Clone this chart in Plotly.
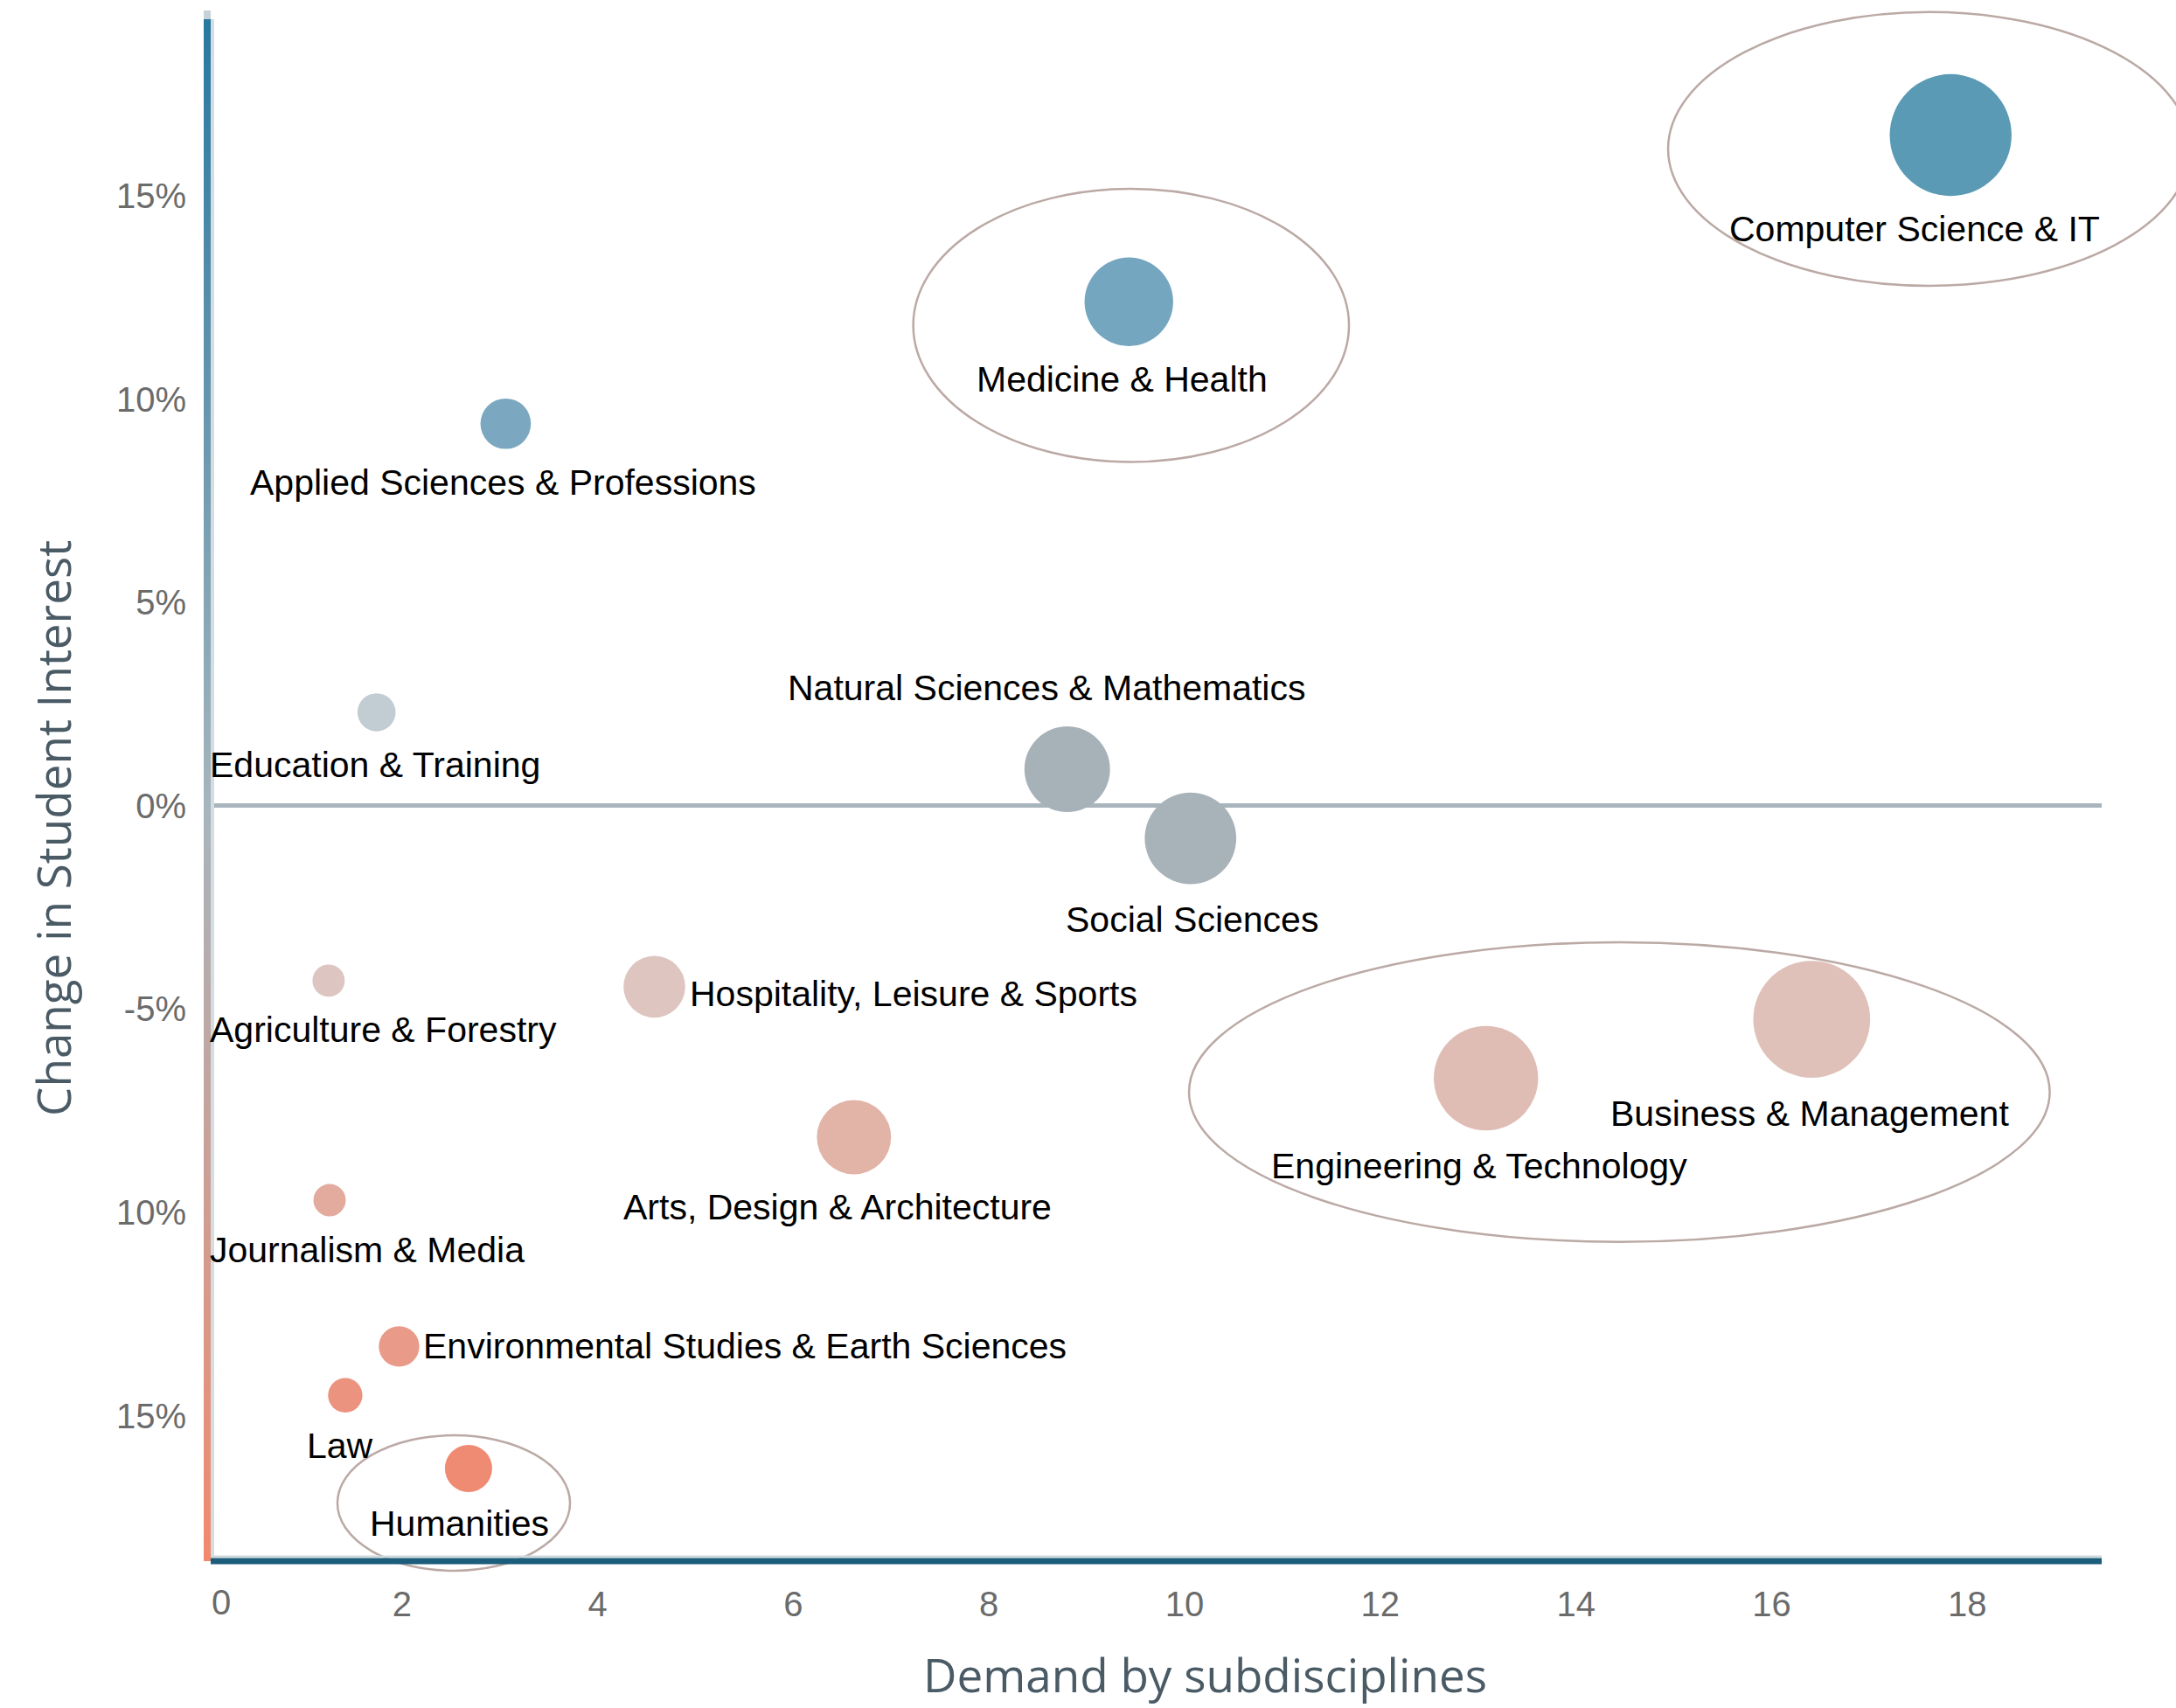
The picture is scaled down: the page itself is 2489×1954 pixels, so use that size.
import numpy as np
import plotly.graph_objects as go

# ---- data ---------------------------------------------------------------
disciplines = [
    "Computer Science & IT",
    "Medicine & Health",
    "Applied Sciences & Professions",
    "Education & Training",
    "Natural Sciences & Mathematics",
    "Social Sciences",
    "Agriculture & Forestry",
    "Hospitality, Leisure & Sports",
    "Arts, Design & Architecture",
    "Engineering & Technology",
    "Business & Management",
    "Journalism & Media",
    "Environmental Studies & Earth Sciences",
    "Law",
    "Humanities",
]
demand = [17.83, 9.43, 3.06, 1.74, 8.80, 10.06, 1.25, 4.58, 6.62, 13.08, 16.41, 1.26, 1.97, 1.42, 2.68]
interest_change = [16.5, 12.4, 9.4, 2.3, 0.9, -0.8, -4.3, -4.45, -8.15, -6.7, -5.25, -9.7, -13.3, -14.5, -16.3]

x_tick_values = [2, 4, 6, 8, 10, 12, 14, 16, 18]
x_origin_label = "0"
y_tick_values = [15, 10, 5, 0, -5, -10, -15]
y_tick_labels = ["15%", "10%", "5%", "0%", "-5%", "10%", "15%"]

# groups circled on the chart: (centre x, centre y, half width, half height) in data units
highlight_groups = {
    "Computer Science & IT": (17.61, 16.16, 2.668, 3.366),
    "Medicine & Health": (9.453, 11.82, 2.227, 3.361),
    "Engineering & Technology / Business & Management": (14.444, -7.04, 4.399, 3.685),
    "Humanities": (2.529, -17.15, 1.189, 1.667),
}

# ---- styling ------------------------------------------------------------
W, H = 2489, 1954
M = dict(l=236, r=85, t=22, b=168)
X_RANGE = [0.0, 19.374]
Y_RANGE = [-18.58, 19.35]

bubble_colors = {
    "Computer Science & IT": "#5a9ab5",
    "Medicine & Health": "#74a6bf",
    "Applied Sciences & Professions": "#7ba8c0",
    "Education & Training": "#c1cdd3",
    "Natural Sciences & Mathematics": "#a6b1b8",
    "Social Sciences": "#a8b2b9",
    "Agriculture & Forestry": "#ddc6c1",
    "Hospitality, Leisure & Sports": "#dfc5c0",
    "Arts, Design & Architecture": "#e2b3a7",
    "Engineering & Technology": "#dfbdb5",
    "Business & Management": "#dfc1b9",
    "Journalism & Media": "#e3ab9d",
    "Environmental Studies & Earth Sciences": "#e99a88",
    "Law": "#ec9380",
    "Humanities": "#ef8a73",
}

# label placement: side of the bubble, horizontal nudge and extra vertical nudge (pixels)
# "below-left" labels are pinned to the left edge of the plot, "below-right" to the right edge
label_place = {
    "Computer Science & IT": ("below-right", 0, 0),
    "Medicine & Health": ("below", -8, 0),
    "Applied Sciences & Professions": ("below", -3, 0),
    "Education & Training": ("below-left", 2, 0),
    "Natural Sciences & Mathematics": ("above", -24, 0),
    "Social Sciences": ("below", 2, -3),
    "Agriculture & Forestry": ("below-left", 2, 0),
    "Hospitality, Leisure & Sports": ("right", -3, -8),
    "Arts, Design & Architecture": ("below", -19, 0),
    "Engineering & Technology": ("below", -8, -3),
    "Business & Management": ("below", -2, -3),
    "Journalism & Media": ("below-left", 2, 0),
    "Environmental Studies & Earth Sciences": ("right", -4, 0),
    "Law": ("below", -6, 0),
    "Humanities": ("below", -10, 2),
}

LABEL_FONT = dict(family="Arial, Liberation Sans, sans-serif", size=41, color="#000000")
TICK_FONT = dict(family="Arial, Liberation Sans, sans-serif", size=40, color="#6b6b6b")
TITLE_FONT = dict(family="Open Sans, sans-serif", size=53, color="#4a5b66")

# bubble diameter in pixels grows with the square root of demand
diameters = 33.0 * np.sqrt(np.array(demand))

fig = go.Figure()
fig.add_trace(go.Scatter(
    x=demand,
    y=interest_change,
    mode="markers",
    text=disciplines,
    hoverinfo="text",
    marker=dict(
        size=diameters,
        sizemode="diameter",
        sizeref=1,
        color=[bubble_colors[d] for d in disciplines],
        opacity=1,
        line=dict(width=0),
    ),
    showlegend=False,
))

# text labels next to each bubble
annotations = []
for name, xv, yv, dia in zip(disciplines, demand, interest_change, diameters):
    side, dx, dy = label_place[name]
    r = dia / 2.0
    ax_x = xv
    if side == "below":
        ann = dict(xshift=dx, yshift=-(r + 38) + dy, xanchor="center", yanchor="middle")
    elif side == "below-left":
        ax_x = X_RANGE[0]
        ann = dict(xshift=dx, yshift=-(r + 38) + dy, xanchor="left", yanchor="middle")
    elif side == "below-right":
        ax_x = X_RANGE[1]
        ann = dict(xshift=dx, yshift=-(r + 38) + dy, xanchor="right", yanchor="middle")
    elif side == "above":
        ann = dict(xshift=dx, yshift=(r + 44) + dy, xanchor="center", yanchor="middle")
    else:
        ann = dict(xshift=r + 6 + dx, yshift=dy, xanchor="left", yanchor="middle")
    annotations.append(dict(
        x=ax_x, y=yv, xref="x", yref="y", text=name, showarrow=False,
        font=LABEL_FONT, **ann,
    ))

plot_w = W - M["l"] - M["r"]
plot_h = H - M["t"] - M["b"]

# the origin label sits a little to the right of the spine
annotations.append(dict(
    text=x_origin_label, x=0, y=0, xref="x", yref="paper", xshift=17, yshift=-47,
    xanchor="center", yanchor="middle", showarrow=False, font=TICK_FONT,
))

# axis titles
annotations.append(dict(
    text="Demand by subdisciplines", xref="paper", yref="paper",
    x=(1378 - M["l"]) / plot_w, y=-(1916 - (H - M["b"])) / plot_h,
    xanchor="center", yanchor="middle", showarrow=False, font=TITLE_FONT,
))
annotations.append(dict(
    text="Change in Student Interest", xref="paper", yref="paper",
    x=-(M["l"] - 60) / plot_w, y=((H - M["b"]) - 948) / plot_h,
    xanchor="center", yanchor="middle", textangle=-90, showarrow=False, font=TITLE_FONT,
))


def to_paper_x(v):
    return (v - X_RANGE[0]) / (X_RANGE[1] - X_RANGE[0])


def to_paper_y(v):
    return (v - Y_RANGE[0]) / (Y_RANGE[1] - Y_RANGE[0])


shapes = []
# highlight ellipses (paper-referenced so they are not clipped by the plot area)
for cx, cy, hw, hh in highlight_groups.values():
    shapes.append(dict(
        type="circle", xref="paper", yref="paper",
        x0=to_paper_x(cx - hw), x1=to_paper_x(cx + hw),
        y0=to_paper_y(cy - hh), y1=to_paper_y(cy + hh),
        line=dict(color="#bba9a5", width=2.5), fillcolor="rgba(0,0,0,0)", layer="above",
    ))


# gradient spine on the left: blue on top, grey at zero, salmon at the bottom
def hex_rgb(h):
    h = h.lstrip("#")
    return np.array([int(h[i:i + 2], 16) for i in (0, 2, 4)], dtype=float)


stops = [(0.0, hex_rgb("#f2896d")), (to_paper_y(0), hex_rgb("#a6b5bd")), (1.0, hex_rgb("#2878a0"))]


def grad_color(t):
    for (t0, c0), (t1, c1) in zip(stops[:-1], stops[1:]):
        if t0 <= t <= t1:
            f = (t - t0) / (t1 - t0)
            c = c0 + (c1 - c0) * f
            return "rgb(%d,%d,%d)" % tuple(np.round(c))
    return "rgb(%d,%d,%d)" % tuple(stops[-1][1])


# light strip beside the spine
shapes.append(dict(type="rect", xref="paper", yref="paper", xsizemode="pixel", xanchor=0,
                   x0=5, x1=9, y0=0, y1=1.0, line=dict(width=0), fillcolor="#d3dde2", layer="above"))
n_seg = 240
for i in range(n_seg):
    t0 = i / n_seg
    t1 = (i + 1) / n_seg
    shapes.append(dict(
        type="rect", xref="paper", yref="paper", xsizemode="pixel", xanchor=0,
        x0=-3, x1=5, y0=t0, y1=t1 + 0.001,
        line=dict(width=0), fillcolor=grad_color((t0 + t1) / 2), layer="above",
    ))
# small light cap above the spine
shapes.append(dict(type="rect", xref="paper", yref="paper", xsizemode="pixel", xanchor=0,
                   ysizemode="pixel", yanchor=1.0,
                   x0=-3, x1=5, y0=0, y1=10, line=dict(width=0), fillcolor="#c6d2d8", layer="above"))

# bottom axis bar: thin light band above a dark teal bar
shapes.append(dict(type="rect", xref="paper", yref="paper", ysizemode="pixel", yanchor=0,
                   x0=5 / plot_w, x1=1.0, y0=3.5, y1=6.5,
                   line=dict(width=0), fillcolor="#cfd9de", layer="above"))
shapes.append(dict(type="rect", xref="paper", yref="paper", ysizemode="pixel", yanchor=0,
                   x0=5 / plot_w, x1=1.0, y0=-3.5, y1=3.5,
                   line=dict(width=0), fillcolor="#1c5d7b", layer="above"))

fig.update_layout(
    width=W, height=H,
    margin=dict(l=M["l"], r=M["r"], t=M["t"], b=M["b"], pad=0),
    paper_bgcolor="white", plot_bgcolor="white",
    showlegend=False,
    annotations=annotations,
    shapes=shapes,
    xaxis=dict(
        range=X_RANGE, tickvals=x_tick_values, ticktext=[str(v) for v in x_tick_values],
        showgrid=False, zeroline=False, showline=False, ticks="",
        tickfont=TICK_FONT, ticklabelstandoff=22,
    ),
    yaxis=dict(
        range=Y_RANGE, tickvals=y_tick_values, ticktext=y_tick_labels,
        showgrid=False, zeroline=True, zerolinecolor="#a9b5bc", zerolinewidth=5,
        showline=False, ticks="", tickfont=TICK_FONT, ticklabelstandoff=22,
    ),
)

fig.write_html("out.html")
